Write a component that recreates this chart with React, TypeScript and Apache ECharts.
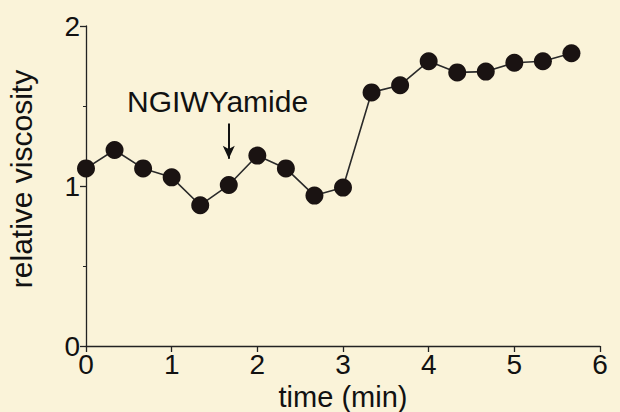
import React, { useEffect, useRef } from "react";
import * as echarts from "echarts";

const timeMin = [0, 1 / 3, 2 / 3, 1, 4 / 3, 5 / 3, 2, 7 / 3, 8 / 3, 3, 10 / 3, 11 / 3, 4, 13 / 3, 14 / 3, 5, 16 / 3, 17 / 3];
const viscosity = [1.11, 1.225, 1.11, 1.054, 0.88, 1.006, 1.19, 1.11, 0.94, 0.99, 1.585, 1.63, 1.78, 1.71, 1.715, 1.77, 1.78, 1.83];
const annotationText = "NGIWYamide";
const annotationX = 5 / 3;

const FONT = "Liberation Sans";

export default function App() {
  const ref = useRef<HTMLDivElement>(null);
  useEffect(() => {
    if (!ref.current) return;
    const chart = echarts.init(ref.current, undefined, { renderer: "svg" });
    const data = timeMin.map((t, i) => [t, viscosity[i]]);
    chart.setOption({
      animation: false,
      backgroundColor: "#faf3d9",
      grid: { left: 86, right: 20, top: 26, bottom: 66, containLabel: false, outerBoundsMode: "none" },
      xAxis: {
        type: "value",
        min: 0,
        max: 6,
        interval: 1,
        name: "time (min)",
        nameLocation: "middle",
        nameGap: 32,
        nameTextStyle: { fontFamily: FONT, fontSize: 29, color: "#111" },
        axisLine: { show: true, lineStyle: { color: "#222", width: 1.3 } },
        axisTick: { show: true, inside: false, length: 6, lineStyle: { color: "#222", width: 1.3 } },
        axisLabel: { fontFamily: FONT, fontSize: 28, color: "#111", margin: 4 },
        splitLine: { show: false },
      },
      yAxis: {
        type: "value",
        min: 0,
        max: 2,
        interval: 1,
        name: "relative viscosity",
        nameLocation: "middle",
        nameGap: 50,
        nameTextStyle: { fontFamily: FONT, fontSize: 30, color: "#111", padding: [0, 0, 0, 14] },
        axisLine: { show: true, lineStyle: { color: "#222", width: 1.3 } },
        axisTick: { show: true, inside: false, length: 6, lineStyle: { color: "#222", width: 1.3 } },
        minorTick: { show: true, splitNumber: 2, length: 3, lineStyle: { color: "#222", width: 1 } },
        axisLabel: { fontFamily: FONT, fontSize: 28, color: "#111", margin: 6 },
        splitLine: { show: false },
      },
      series: [
        {
          type: "line",
          data,
          symbol: "circle",
          symbolSize: 18,
          itemStyle: { color: "#1a1312" },
          lineStyle: { color: "#2a2a2a", width: 1.6 },
          markLine: {
            silent: true,
            symbol: ["none", "arrow"],
            symbolSize: [9, 13],
            lineStyle: { color: "#111", width: 2, type: "solid" },
            label: { show: false },
            data: [
              [
                { coord: [annotationX, 1.39] },
                { coord: [annotationX, 1.17] },
              ],
            ],
          },
          markPoint: {
            silent: true,
            symbol: "circle",
            symbolSize: 0,
            label: {
              show: true,
              formatter: annotationText,
              fontFamily: FONT,
              fontSize: 30,
              color: "#111",
              position: "inside",
            },
            data: [{ coord: [1.536, 1.53] }],
          },
        },
      ],
    });
    return () => chart.dispose();
  }, []);
  return (
    <div
      ref={ref}
      style={{ position: "fixed", left: 0, top: 0, width: 620, height: 412 }}
    />
  );
}
